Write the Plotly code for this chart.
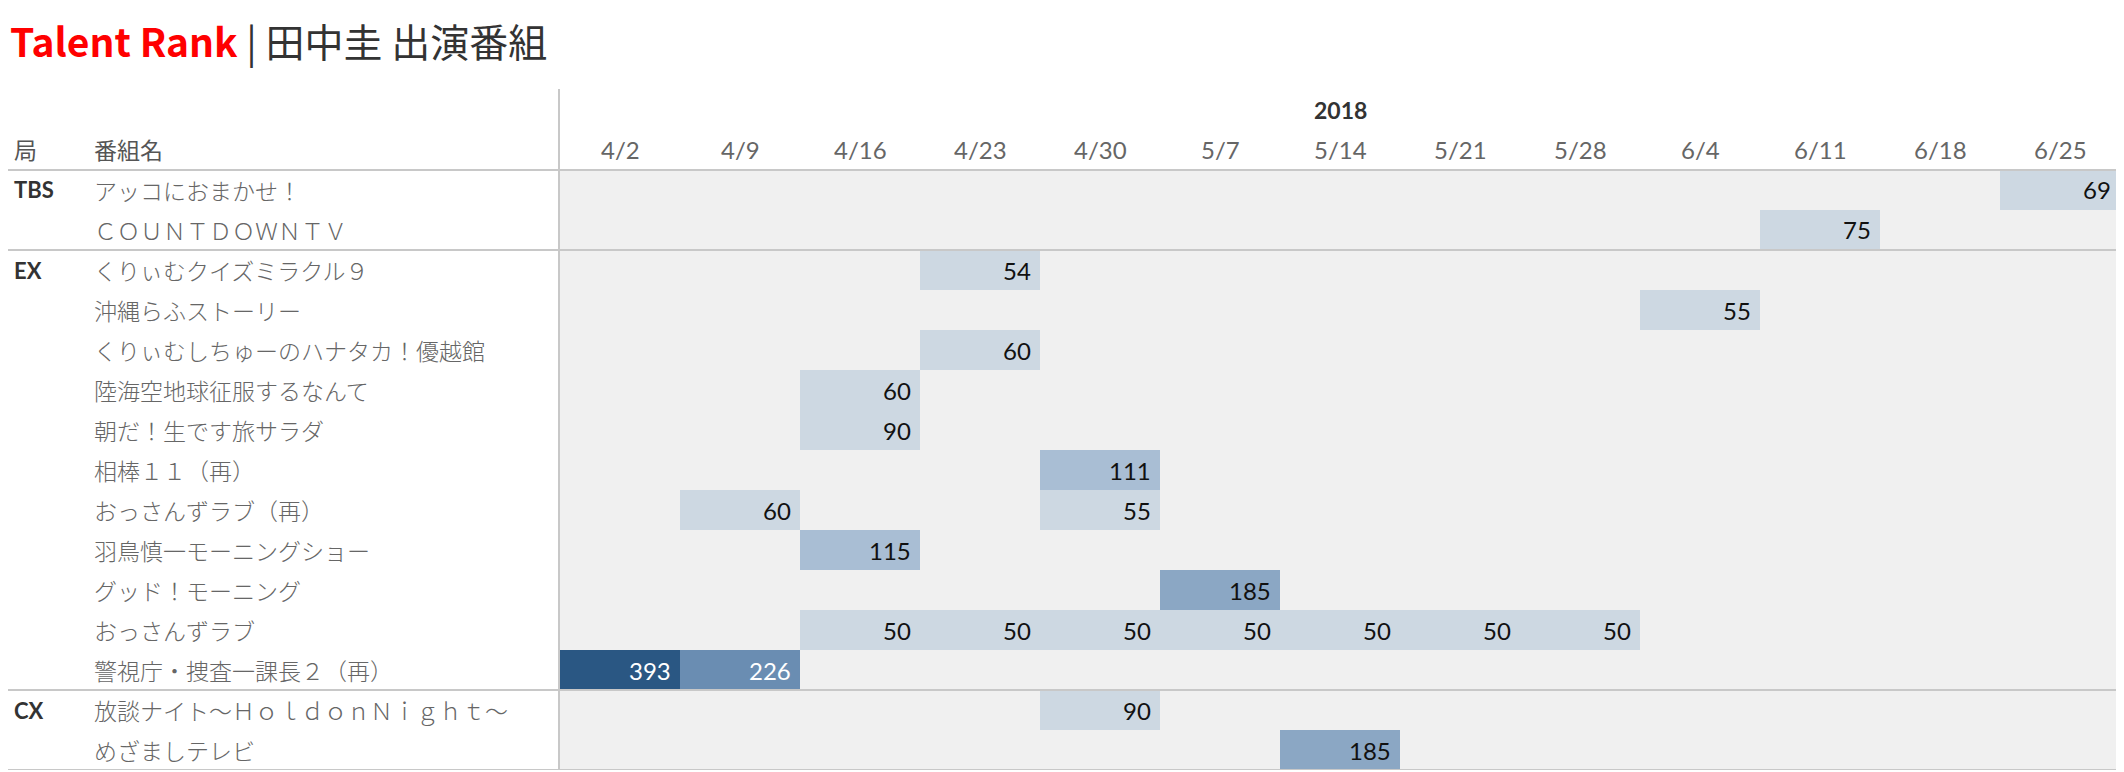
import plotly.graph_objects as go

# ---------------- data ----------------
weeks = ["4/2", "4/9", "4/16", "4/23", "4/30", "5/7", "5/14",
         "5/21", "5/28", "6/4", "6/11", "6/18", "6/25"]
year_label = "2018"

programs = [
    "アッコにおまかせ！",
    "ＣＯＵＮＴＤＯＷＮＴＶ",
    "くりぃむクイズミラクル９",
    "沖縄らふストーリー",
    "くりぃむしちゅーのハナタカ！優越館",
    "陸海空地球征服するなんて",
    "朝だ！生です旅サラダ",
    "相棒１１（再）",
    "おっさんずラブ（再）",
    "羽鳥慎一モーニングショー",
    "グッド！モーニング",
    "おっさんずラブ",
    "警視庁・捜査一課長２（再）",
    "放談ナイト～ＨｏｌｄｏｎＮｉｇｈｔ～",
    "めざましテレビ",
]
stations = ["TBS", "TBS", "EX", "EX", "EX", "EX", "EX", "EX", "EX",
            "EX", "EX", "EX", "EX", "CX", "CX"]

cell_program = [
    "アッコにおまかせ！",
    "ＣＯＵＮＴＤＯＷＮＴＶ",
    "くりぃむクイズミラクル９",
    "沖縄らふストーリー",
    "くりぃむしちゅーのハナタカ！優越館",
    "陸海空地球征服するなんて",
    "朝だ！生です旅サラダ",
    "相棒１１（再）",
    "おっさんずラブ（再）", "おっさんずラブ（再）",
    "羽鳥慎一モーニングショー",
    "グッド！モーニング",
    "おっさんずラブ", "おっさんずラブ", "おっさんずラブ", "おっさんずラブ",
    "おっさんずラブ", "おっさんずラブ", "おっさんずラブ",
    "警視庁・捜査一課長２（再）", "警視庁・捜査一課長２（再）",
    "放談ナイト～ＨｏｌｄｏｎＮｉｇｈｔ～",
    "めざましテレビ",
]
cell_week = [
    "6/25", "6/11", "4/23", "6/4", "4/23", "4/16", "4/16", "4/30",
    "4/9", "4/30", "4/16", "5/7",
    "4/16", "4/23", "4/30", "5/7", "5/14", "5/21", "5/28",
    "4/2", "4/9", "4/30", "5/14",
]
cell_value = [
    69, 75, 54, 55, 60, 60, 90, 111,
    60, 55, 115, 185,
    50, 50, 50, 50, 50, 50, 50,
    393, 226, 90, 185,
]

# ---------------- layout constants ----------------
W, H = 2124, 772
OFF = 8  # page body margin
GRID_L, GRID_R = 560, 2120
GRID_T, GRID_B = 170, 770
LINE_C = "#c8c8c8"
LATIN = "Lato, 'Noto Sans', sans-serif"
CJK = "'Noto Sans CJK JP', 'Noto Sans', sans-serif"


def px(x):
    return (x - OFF) / W


def py(y):
    return 1 - (y - OFF) / H


# matrix for the heatmap
z = [[None for _ in weeks] for _ in programs]
for p, w, v in zip(cell_program, cell_week, cell_value):
    z[programs.index(p)][weeks.index(w)] = v

vmin, vmax = min(cell_value), max(cell_value)
def nrm(v):
    return (v - vmin) / (vmax - vmin)

steps = ["#cdd8e2", "#a9bed4", "#8ba7c4", "#6a8db2", "#2a5783"]
bounds = [0, nrm(100), nrm(150), nrm(200), nrm(300), 1]
colorscale = []
for i, c in enumerate(steps):
    colorscale.append([bounds[i], c])
    colorscale.append([bounds[i + 1], c])

fig = go.Figure()
fig.add_trace(go.Heatmap(
    x=list(range(len(weeks))),
    y=list(range(len(programs))),
    z=z,
    zmin=vmin, zmax=vmax,
    colorscale=colorscale,
    showscale=False,
    hoverinfo="skip",
    xgap=0, ygap=0,
))

annotations = []

# title
annotations.append(dict(
    xref="paper", yref="paper", x=px(8), y=py(40),
    xanchor="left", yanchor="middle", showarrow=False,
    text="<b><span style='color:#ff0000'>Talent Rank</span></b>"
         "<span style='color:#333333'> | 田中圭 出演番組</span>",
    font=dict(family=CJK, size=39, color="#333333"),
))

# header labels
HDR_Y = 149
annotations.append(dict(
    xref="paper", yref="paper", x=px(12), y=py(HDR_Y),
    xanchor="left", yanchor="middle", showarrow=False,
    text="局", font=dict(family=CJK, size=23, color="#555555"),
))
annotations.append(dict(
    xref="paper", yref="paper", x=px(92), y=py(HDR_Y),
    xanchor="left", yanchor="middle", showarrow=False,
    text="番組名", font=dict(family=CJK, size=23, color="#555555"),
))
annotations.append(dict(
    xref="x", yref="paper", x=(len(weeks) - 1) / 2, y=py(110),
    xanchor="center", yanchor="middle", showarrow=False,
    text=f"<b>{year_label}</b>", font=dict(family=LATIN, size=23, color="#333333"),
))
for i, w in enumerate(weeks):
    annotations.append(dict(
        xref="x", yref="paper", x=i, y=py(HDR_Y),
        xanchor="center", yanchor="middle", showarrow=False,
        text=w, font=dict(family=LATIN, size=24, color="#666666"),
    ))

# station + program labels
prev = None
for i, (s, p) in enumerate(zip(stations, programs)):
    if s != prev:
        annotations.append(dict(
            xref="paper", yref="y", x=px(12), y=i,
            xanchor="left", yanchor="middle", showarrow=False,
            text=f"<b>{s}</b>", font=dict(family=LATIN, size=22, color="#333333"),
        ))
        prev = s
    annotations.append(dict(
        xref="paper", yref="y", x=px(92), y=i,
        xanchor="left", yanchor="middle", showarrow=False,
        text=p, font=dict(family=CJK, size=23, color="#666666", weight=300),
    ))

# cell values
for p, w, v in zip(cell_program, cell_week, cell_value):
    annotations.append(dict(
        xref="x", yref="y", x=weeks.index(w) + 0.44, y=programs.index(p),
        xanchor="right", yanchor="middle", showarrow=False,
        text=str(v),
        font=dict(family=LATIN, size=24, color="#ffffff" if v > 200 else "#111111"),
    ))

# lines
shapes = []
shapes.append(dict(type="line", xref="paper", yref="paper",
                   x0=px(0), x1=px(GRID_R), y0=py(GRID_T), y1=py(GRID_T),
                   line=dict(color=LINE_C, width=2)))
prev = stations[0]
for i, s in enumerate(stations):
    if s != prev:
        shapes.append(dict(type="line", xref="paper", yref="y",
                           x0=px(0), x1=px(GRID_R), y0=i - 0.5, y1=i - 0.5,
                           line=dict(color=LINE_C, width=2)))
        prev = s
shapes.append(dict(type="line", xref="paper", yref="y",
                   x0=px(0), x1=px(GRID_R), y0=len(programs) - 0.5, y1=len(programs) - 0.5,
                   line=dict(color=LINE_C, width=2)))
shapes.append(dict(type="line", xref="paper", yref="paper",
                   x0=px(GRID_L - 1), x1=px(GRID_L - 1), y0=py(89), y1=py(GRID_B),
                   line=dict(color=LINE_C, width=2)))

fig.update_layout(
    width=W, height=H, autosize=False,
    margin=dict(l=0, r=0, t=0, b=0),
    paper_bgcolor="#ffffff",
    plot_bgcolor="#f0f0f0",
    showlegend=False,
    xaxis=dict(domain=[px(GRID_L), px(GRID_R)], range=[-0.5, len(weeks) - 0.5],
               visible=False, fixedrange=True),
    yaxis=dict(domain=[py(GRID_B), py(GRID_T)], range=[len(programs) - 0.5, -0.5],
               visible=False, fixedrange=True),
    annotations=annotations,
    shapes=shapes,
)

fig.write_html("out.html")
